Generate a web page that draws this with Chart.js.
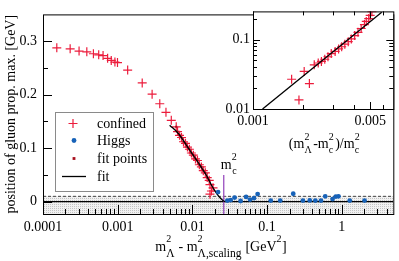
<!DOCTYPE html>
<html>
<head>
<meta charset="utf-8">
<script src="https://cdn.jsdelivr.net/npm/chart.js@4.4.1/dist/chart.umd.min.js"></script>
<style>
  html, body { margin: 0; padding: 0; background: #fff; }
  #wrap { position: relative; width: 399px; height: 261px; overflow: hidden; }
  #main { position: absolute; left: 0; top: 0; }
  #inset { position: absolute; left: 200px; top: 0; }
</style>
</head>
<body>
<div id="wrap">
  <canvas id="main" width="399" height="261" style="width:399px;height:261px"></canvas>
  <canvas id="inset" width="199" height="160" style="width:199px;height:160px"></canvas>
</div>
<script>
// ---- main panel: position of the gluon propagator maximum ----
const confinedX = [1.53e-4, 2.31e-4, 3.04e-4, 3.86e-4, 4.73e-4, 5.57e-4, 6.37e-4, 7.33e-4, 8.20e-4,
  9.18e-4, 9.94e-4, 1.36e-3, 2.13e-3, 2.89e-3, 3.66e-3, 4.43e-3, 5.22e-3, 6.08e-3,
  0.00633, 0.00673, 0.00715, 0.00760, 0.00808, 0.00859, 0.00913, 0.00970, 0.0103, 0.0110,
  0.0117, 0.0124, 0.0132, 0.0140, 0.0149, 0.0158, 0.0168, 0.0172, 0.0180, 0.0189, 0.0172];
const confinedY = [0.2875, 0.2857, 0.2815, 0.2800, 0.2765, 0.2745, 0.2730, 0.2680, 0.2640,
  0.2610, 0.2600, 0.2460, 0.2220, 0.2010, 0.1830, 0.1670, 0.1520, 0.1400,
  0.131, 0.124, 0.120, 0.112, 0.109, 0.102, 0.098, 0.091, 0.087, 0.080,
  0.077, 0.069, 0.065, 0.058, 0.054, 0.045, 0.040, 0.032, 0.020, 0.026, 0.014];
// points that entered the fit
const fitPointX = confinedX.slice(17, 35);
const fitPointY = confinedY.slice(17, 35);

const higgsX = [0.0221, 0.0294, 0.0326, 0.0368, 0.0442, 0.0524, 0.0592, 0.0668, 0.0748, 0.112, 0.150,
  0.224, 0.302, 0.373, 0.443, 0.527, 0.601, 0.753, 0.833, 0.904, 1.28, 2.02];
const higgsY = [0.018, 0.002, 0.003, 0.0077, 0.0013, 0.009, 0.004, 0.0066, 0.0143, 0.002, 0.002,
  0.0148, 0.002, 0.0023, 0.002, 0.002, 0.010, 0.0048, 0.0095, 0.010, 0.002, 0.002];

const fitCurveX = [0.00496, 0.00653, 0.00885, 0.0120, 0.0153, 0.0184, 0.0214, 0.0242, 0.0265, 0.0281];
const fitCurveY = [0.143, 0.127, 0.100, 0.073, 0.050, 0.0286, 0.0143, 0.0054, 0.0009, 0];

const mcSquared = 0.0263;
const mcLineY = [-0.05, 0.05];
const bandTop = 0.01;

const xRange = [1e-4, 4.9];
const yRange = [-0.023, 0.35];
const xTickValues = [0.0001, 0.001, 0.01, 0.1, 1];
const xTickLabels = ['0.0001', '0.001', '0.01', '0.1', '1'];
const yTickValues = [0, 0.1, 0.2, 0.3];
const yTickLabels = ['0', '0.1', '0.2', '0.3'];
const yMinorValues = [0.05, 0.15, 0.25];

// ---- inset: log-log view of the fit region ----
const insetX = [0.00170, 0.00188, 0.00202, 0.00217, 0.00232, 0.00245, 0.00256, 0.00268, 0.00280, 0.00293,
  0.00309, 0.00324, 0.00338, 0.00353, 0.00370, 0.00386, 0.00404, 0.00423, 0.00442, 0.00462,
  0.00474, 0.00490, 0.00500, 0.00512];
const insetY = [0.0268, 0.0135, 0.0347, 0.0232, 0.0432, 0.0459, 0.0484, 0.0520, 0.0565, 0.0627,
  0.0673, 0.0732, 0.0787, 0.0856, 0.0930, 0.102, 0.114, 0.127, 0.144, 0.164,
  0.182, 0.200, 0.222, 0.252];
const insetFitX = [0.00114, 0.00586];
const insetFitY = [0.01, 0.247];
const insetXRange = [0.001, 0.00687];
const insetYRange = [0.01, 0.254];
const insetXTicks = [0.001, 0.005];
const insetXLabels = ['0.001', '0.005'];
const insetXMinor = [0.002, 0.003, 0.004, 0.006];
const insetYTicks = [0.01, 0.1];
const insetYLabels = ['0.01', '0.1'];
const insetYMinor = [0.02, 0.03, 0.04, 0.05, 0.06, 0.07, 0.08, 0.09, 0.2];

const RED = '#ec1c3c';
const BLUE = '#1762b8';
const DARKRED = '#a8101e';
const PURPLE = '#9a4fc0';
const FONT = '"Liberation Serif", "Times New Roman", serif';

Chart.defaults.font.family = FONT;
Chart.defaults.font.size = 14;
Chart.defaults.color = '#000';

function pts(xs, ys) {
  return xs.map((x, i) => ({ x, y: ys[i] }));
}

// minor ticks of a log axis, 2..9 per decade
function logMinor(lo, hi) {
  const out = [];
  for (let d = Math.floor(Math.log10(lo)); d <= Math.ceil(Math.log10(hi)); d++) {
    for (let k = 2; k <= 9; k++) {
      const v = k * Math.pow(10, d);
      if (v > lo && v < hi) out.push(v);
    }
  }
  return out;
}

// text with stacked super/subscripts
function drawRich(ctx, tokens, x, y, o) {
  const big = o.size + 'px ' + FONT;
  const sup = o.sup + 'px ' + FONT;
  const sub = o.sub + 'px ' + FONT;
  const widths = tokens.map(t => {
    if (typeof t === 'string') { ctx.font = big; return ctx.measureText(t).width; }
    let w = 0;
    if (t.sup) { ctx.font = sup; w = Math.max(w, ctx.measureText(t.sup).width); }
    if (t.sub) { ctx.font = sub; w = Math.max(w, ctx.measureText(t.sub).width); }
    return w + (o.gap || 0);
  });
  const total = widths.reduce((a, b) => a + b, 0);
  let cx = x - total / 2;
  ctx.textAlign = 'left';
  ctx.textBaseline = 'alphabetic';
  tokens.forEach((t, i) => {
    if (typeof t === 'string') {
      ctx.font = big; ctx.fillText(t, cx, y);
    } else {
      if (t.sup) { ctx.font = sup; ctx.fillText(t.sup, cx, y - o.supRise); }
      if (t.sub) { ctx.font = sub; ctx.fillText(t.sub, cx, y + o.subDrop); }
    }
    cx += widths[i];
  });
}

// frame + inward tick marks
const frameTicks = {
  id: 'frameTicks',
  afterDatasetsDraw(chart, args, o) {
    const { ctx, chartArea: a, scales: { x, y } } = chart;
    ctx.save();
    ctx.strokeStyle = '#000';
    ctx.lineWidth = 1;
    ctx.beginPath();
    const tick = (vals, len, isX) => {
      vals.forEach(v => {
        if (isX) {
          const p = Math.round(x.getPixelForValue(v)) + 0.5;
          ctx.moveTo(p, a.bottom); ctx.lineTo(p, a.bottom - len);
          if (o.mirror) { ctx.moveTo(p, a.top); ctx.lineTo(p, a.top + len); }
        } else {
          const p = Math.round(y.getPixelForValue(v)) + 0.5;
          ctx.moveTo(a.left, p); ctx.lineTo(a.left + len, p);
          if (o.mirror) { ctx.moveTo(a.right, p); ctx.lineTo(a.right - len, p); }
        }
      });
    };
    tick(o.xMajor, o.major, true);
    tick(o.xMinor, o.minor, true);
    tick(o.yMajor, o.major, false);
    tick(o.yMinor, o.minor, false);
    ctx.stroke();
    ctx.strokeRect(a.left + 0.5, a.top + 0.5, a.right - a.left, a.bottom - a.top);
    ctx.restore();
  }
};

const whiteArea = {
  id: 'whiteArea',
  beforeDatasetsDraw(chart) {
    const { ctx, chartArea: a } = chart;
    ctx.save();
    ctx.fillStyle = '#fff';
    ctx.fillRect(a.left, a.top, a.right - a.left, a.bottom - a.top);
    ctx.restore();
  }
};

// fine dotted grey used for the band below the dashed line
function stipple() {
  const c = document.createElement('canvas');
  c.width = 2; c.height = 2;
  const g = c.getContext('2d');
  g.fillStyle = '#f1f1f1';
  g.fillRect(0, 0, 2, 2);
  g.fillStyle = '#c4c4c4';
  g.fillRect(0, 0, 1, 1);
  return g.createPattern(c, 'repeat');
}

const mainLabels = {
  id: 'mainLabels',
  afterDraw(chart) {
    const { ctx, chartArea: a, scales: { x, y } } = chart;
    ctx.save();
    ctx.fillStyle = '#000';

    // y title
    ctx.save();
    ctx.translate(11, (a.top + a.bottom) / 2);
    ctx.rotate(-Math.PI / 2);
    ctx.font = '14px ' + FONT;
    ctx.textAlign = 'center';
    ctx.textBaseline = 'middle';
    ctx.fillText('position of gluon prop. max. [GeV]', 0, 0);
    ctx.restore();

    // x title
    drawRich(ctx, ['m', { sup: '2', sub: '\u039b' }, ' - m', { sup: '2', sub: '\u039b,scaling' }, ' [GeV', { sup: '2' }, ']'],
      221, 251, { size: 14, sup: 10, sub: 11.5, supRise: 9, subDrop: 6, gap: 0.5 });

    // m_c^2 marker label
    const mx = x.getPixelForValue(mcSquared);
    ctx.font = '14px ' + FONT;
    ctx.textAlign = 'left';
    ctx.fillText('m', mx - 3, y.getPixelForValue(0.062));
    ctx.font = '10px ' + FONT;
    ctx.fillText('2', mx + 8, y.getPixelForValue(0.077));
    ctx.fillText('c', mx + 8.5, y.getPixelForValue(0.051));

    // legend
    const L = { left: 55, top: 112, right: 153, bottom: 191 };
    ctx.fillStyle = '#fff';
    ctx.fillRect(L.left, L.top, L.right - L.left, L.bottom - L.top);
    ctx.strokeStyle = '#8a8a8a';
    ctx.lineWidth = 1;
    ctx.strokeRect(L.left + 0.5, L.top + 0.5, L.right - L.left, L.bottom - L.top);
    const rows = [
      { text: 'confined', base: 128, draw: cy => Chart.helpers.drawPoint(ctx, { pointStyle: 'cross', radius: 4.5, borderWidth: 1.2 }, 73, cy), color: RED },
      { text: 'Higgs', base: 145, draw: cy => Chart.helpers.drawPoint(ctx, { pointStyle: 'circle', radius: 2.4, borderWidth: 0 }, 74, cy), color: BLUE },
      { text: 'fit points', base: 163, draw: cy => Chart.helpers.drawPoint(ctx, { pointStyle: 'rect', radius: 2, borderWidth: 0 }, 74, cy), color: DARKRED },
      { text: 'fit', base: 181, draw: cy => { ctx.beginPath(); ctx.moveTo(62, cy); ctx.lineTo(86, cy); ctx.stroke(); }, color: '#000' }
    ];
    rows.forEach(r => {
      ctx.strokeStyle = r.color;
      ctx.fillStyle = r.color;
      ctx.lineWidth = r.text === 'fit' ? 1.3 : 1.2;
      r.draw(r.base - 4.5);
      ctx.fillStyle = '#000';
      ctx.font = '14px ' + FONT;
      ctx.textAlign = 'left';
      ctx.textBaseline = 'alphabetic';
      ctx.fillText(r.text, 97, r.base);
    });
    ctx.restore();
  }
};

new Chart(document.getElementById('main'), {
  type: 'scatter',
  data: {
    datasets: [
      { label: 'Higgs', data: pts(higgsX, higgsY), pointStyle: 'circle', pointRadius: 2.4,
        backgroundColor: BLUE, borderColor: BLUE, borderWidth: 0 },
      { label: 'fit', data: pts(fitCurveX, fitCurveY), showLine: true, pointRadius: 0,
        borderColor: '#000', borderWidth: 1.3, cubicInterpolationMode: 'monotone' },
      { label: 'fit points', data: pts(fitPointX, fitPointY), pointStyle: 'rect', pointRadius: 1.5,
        backgroundColor: DARKRED, borderColor: DARKRED, borderWidth: 0 },
      { label: 'confined', data: pts(confinedX, confinedY), pointStyle: 'cross', pointRadius: 4.5,
        borderColor: RED, borderWidth: 1.2 },
      { label: 'mc', data: pts([mcSquared, mcSquared], mcLineY), showLine: true, pointRadius: 0,
        borderColor: PURPLE, borderWidth: 1.3 },
      { label: 'zero', data: pts(xRange, [0, 0]), showLine: true, pointRadius: 0,
        borderColor: '#000', borderWidth: 1.2 },
      { label: 'band', data: pts(xRange, [bandTop, bandTop]), showLine: true, pointRadius: 0,
        borderColor: '#444', borderWidth: 1, borderDash: [3, 2], fill: 'start', backgroundColor: stipple() }
    ]
  },
  options: {
    responsive: false,
    animation: false,
    events: [],
    layout: { padding: { left: 0, right: 2, top: 5, bottom: 0 } },
    plugins: {
      legend: { display: false },
      tooltip: { enabled: false },
      frameTicks: { xMajor: xTickValues, xMinor: logMinor(xRange[0], xRange[1]), yMajor: yTickValues,
        yMinor: yMinorValues, major: 9, minor: 5, mirror: false }
    },
    scales: {
      x: {
        type: 'logarithmic', min: xRange[0], max: xRange[1],
        afterFit(s) { s.height = 47; },
        afterBuildTicks(s) { s.ticks = xTickValues.map(v => ({ value: v })); },
        ticks: { callback: (v, i) => xTickLabels[i], padding: 5, maxRotation: 0, autoSkip: false },
        grid: { display: false, drawTicks: false },
        border: { display: false }
      },
      y: {
        type: 'linear', min: yRange[0], max: yRange[1],
        afterFit(s) { s.width = 43; },
        afterBuildTicks(s) { s.ticks = yTickValues.map(v => ({ value: v })); },
        ticks: { callback: (v, i) => yTickLabels[i], padding: 6 },
        grid: { display: false, drawTicks: false },
        border: { display: false }
      }
    }
  },
  plugins: [frameTicks, mainLabels]
});

const insetLabels = {
  id: 'insetLabels',
  afterDraw(chart) {
    const { ctx } = chart;
    ctx.save();
    ctx.fillStyle = '#000';
    drawRich(ctx, ['(m', { sup: '2', sub: '\u039b' }, '-m', { sup: '2', sub: 'c' }, ')/m', { sup: '2', sub: 'c' }],
      125, 148, { size: 14, sup: 10, sub: 10, supRise: 8, subDrop: 5, gap: 1.5 });
    ctx.restore();
  }
};

new Chart(document.getElementById('inset'), {
  type: 'scatter',
  data: {
    datasets: [
      { label: 'fit', data: pts(insetFitX, insetFitY), showLine: true, pointRadius: 0,
        borderColor: '#000', borderWidth: 1.3 },
      { label: 'confined', data: pts(insetX, insetY), pointStyle: 'cross', pointRadius: 4.5,
        borderColor: RED, borderWidth: 1.2 }
    ]
  },
  options: {
    responsive: false,
    animation: false,
    events: [],
    layout: { padding: { left: 0, right: 2, top: 5, bottom: 0 } },
    plugins: {
      legend: { display: false },
      tooltip: { enabled: false },
      frameTicks: { xMajor: insetXTicks, xMinor: insetXMinor, yMajor: insetYTicks, yMinor: insetYMinor,
        major: 7, minor: 4, mirror: true }
    },
    scales: {
      x: {
        type: 'logarithmic', min: insetXRange[0], max: insetXRange[1],
        afterFit(s) { s.height = 51; },
        afterBuildTicks(s) { s.ticks = insetXTicks.map(v => ({ value: v })); },
        ticks: { callback: (v, i) => insetXLabels[i], padding: 4, maxRotation: 0, autoSkip: false },
        grid: { display: false, drawTicks: false },
        border: { display: false }
      },
      y: {
        type: 'logarithmic', min: insetYRange[0], max: insetYRange[1],
        afterFit(s) { s.width = 53; },
        afterBuildTicks(s) { s.ticks = insetYTicks.map(v => ({ value: v })); },
        ticks: { callback: (v, i) => insetYLabels[i], padding: 3 },
        grid: { display: false, drawTicks: false },
        border: { display: false }
      }
    }
  },
  plugins: [whiteArea, frameTicks, insetLabels]
});
</script>
</body>
</html>
